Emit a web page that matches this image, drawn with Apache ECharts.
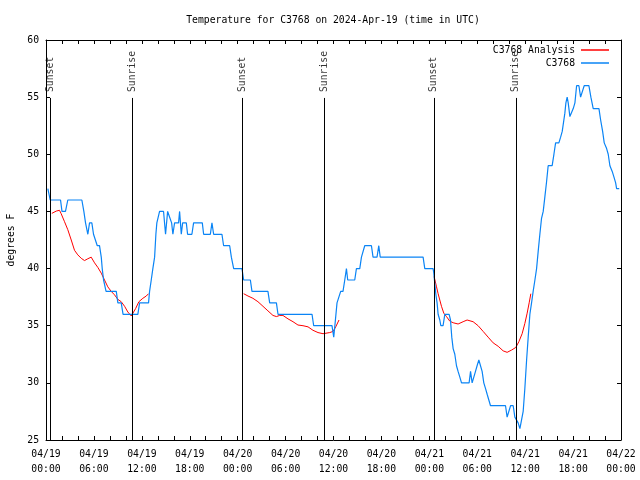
<!DOCTYPE html>
<html><head><meta charset="utf-8">
<script src="https://cdn.jsdelivr.net/npm/echarts@6/dist/echarts.min.js"></script>
<style>html,body{margin:0;padding:0;background:#fff}#c{width:640px;height:480px}</style>
</head><body><div id="c"></div>
<script>
const FONT = 'DejaVu Sans Mono';
const FS = 9.75;
const titleText = 'Temperature for C3768 on 2024-Apr-19 (time in UTC)';
const yAxisName = 'degrees F';
const startDay = 19; // 04/19 00:00 UTC = hour 0
const seriesNames = ['C3768 Analysis', 'C3768'];

// Observations: [hours since 04/19 00:00 UTC, degrees F]
const obsSeries = [[0.23,47],[0.38,47],[0.53,46],[1.82,46],[2.0,45],[2.44,45],[2.73,46],[4.49,46],[4.74,45],[4.95,44],[5.24,43],[5.45,44],[5.74,44],[5.95,43],[6.20,43],[6.42,42],[6.70,42],[6.92,41],[7.04,40],[7.21,39],[7.52,38],[8.80,38],[9.00,37],[9.42,37],[9.65,36],[11.50,36],[11.72,37],[12.84,37],[12.97,38],[13.18,39],[13.38,40],[13.60,41],[13.76,43],[13.88,44],[14.22,45],[14.72,45],[14.97,43],[15.23,45],[15.48,45],[15.73,44],[15.89,43],[16.10,44],[16.60,44],[16.73,45],[16.94,43],[17.11,44],[17.57,44],[17.73,43],[18.27,43],[18.48,44],[19.57,44],[19.74,43],[20.58,43],[20.78,44],[20.99,43],[22.03,43],[22.24,42],[23.0,42],[23.21,41],[23.50,40],[24.54,40],[24.75,39],[25.59,39],[25.79,38],[27.79,38],[28.01,37],[28.85,37],[29.05,36],[33.31,36],[33.52,35],[35.81,35],[36.03,34],[36.24,35.5],[36.44,37],[36.65,37],[36.90,38],[37.19,38],[37.41,39],[37.62,40],[37.78,39],[38.66,39],[38.87,40],[39.29,40],[39.50,41],[39.72,41],[39.91,42],[40.75,42],[40.95,41],[41.45,41],[41.67,42],[41.85,41],[47.22,41],[47.43,40],[48.47,40],[48.56,39.6],[48.68,38.7],[48.81,37.8],[48.97,37],[49.10,36],[49.31,35.5],[49.44,35],[49.72,35],[49.94,36],[50.48,36],[50.65,35.5],[50.81,34],[50.98,33],[51.19,32.5],[51.40,31.5],[51.60,31],[51.82,30.5],[52.03,30],[52.98,30],[53.16,31],[53.36,30],[53.57,30],[53.78,31],[53.98,31.5],[54.20,32],[54.41,32],[54.61,31],[54.82,30],[55.04,29.5],[55.24,29],[55.45,28.5],[55.66,28],[57.54,28],[57.74,27],[57.96,27],[58.17,28],[58.50,28],[58.71,27],[58.92,27],[59.12,26.5],[59.34,26],[59.55,26],[59.75,27.5],[59.96,29.5],[60.18,32],[60.38,34],[60.59,36],[60.80,37],[61.0,38],[61.22,39],[61.43,40],[61.63,41.5],[61.84,43],[62.05,44.4],[62.26,45],[62.47,46.3],[62.68,47.6],[62.88,49],[63.38,49],[63.60,50],[63.81,51],[64.22,51],[64.44,51.5],[64.64,52],[64.76,52],[64.97,53.6],[65.10,54.5],[65.26,55],[65.39,54.5],[65.60,53.3],[65.81,53.3],[66.02,54],[66.23,54.5],[66.44,56],[66.73,56],[66.94,55],[67.17,55],[67.39,56],[67.98,56],[68.23,55],[68.52,54],[69.24,54],[69.45,53],[69.70,52],[69.90,51],[70.20,50.5],[70.40,50],[70.61,49],[70.90,48.5],[71.12,48],[71.33,47.5],[71.45,47],[71.78,47]];

// Analysis: [hours, degrees F], '-' marks a gap
const anaSeries = [[0.73,44.83],[1.28,45.03],[1.69,45.1],[1.90,44.8],[2.32,44.1],[2.73,43.4],[3.16,42.5],[3.57,41.6],[3.98,41.2],[4.41,40.9],[4.82,40.7],[5.24,40.86],[5.66,41.0],[6.08,40.5],[6.49,40.1],[6.92,39.6],[7.33,39.0],[7.74,38.4],[8.17,38.0],[8.58,37.7],[9.0,37.3],[9.42,37.1],[9.84,36.7],[10.25,36.2],[10.68,35.85],[10.88,35.9],[11.22,36.5],[11.63,37.1],[12.13,37.4],[12.56,37.6],[12.84,37.8],
[18,'-'],
[24.75,37.8],[25.29,37.6],[25.91,37.4],[26.54,37.1],[27.17,36.7],[27.79,36.3],[28.42,35.9],[28.85,35.8],[29.26,35.9],[29.67,35.9],[30.30,35.6],[30.93,35.35],[31.55,35.06],[32.18,35.0],[32.81,34.9],[33.43,34.6],[34.06,34.4],[34.69,34.3],[35.53,34.4],[35.94,34.5],[36.28,34.9],[36.69,35.5],
[42,'-'],
[48.6,39.3],[48.9,38.4],[49.1,37.8],[49.31,37.25],[49.52,36.7],[49.81,36.1],[50.15,35.8],[50.56,35.4],[50.98,35.26],[51.6,35.15],[52.23,35.35],[52.73,35.5],[53.48,35.35],[54.11,35.0],[54.74,34.5],[55.36,34.0],[55.99,33.5],[56.62,33.2],[57.24,32.8],[57.74,32.67],[58.30,32.87],[58.83,33.1],[59.21,33.6],[59.62,34.3],[59.96,35.2],[60.25,36.1],[60.50,37.0],[60.71,37.8]];

const sunHours = [0.55, 10.85, 24.55, 34.9, 48.57, 58.83];
const sunLabels = ['Sunset', 'Sunrise', 'Sunset', 'Sunrise', 'Sunset', 'Sunrise'];
const SUN_LINE_TOP = 54.93;   // degrees F where the marker line stops
const SUN_LABEL_Y = 55.45;    // degrees F where the label starts

function fmtX(v) {
  const day = startDay + Math.floor(v / 24 + 1e-9);
  const hr = Math.round(v - (day - startDay) * 24);
  return '04/' + String(day).padStart(2, '0') + '\n' + String(hr).padStart(2, '0') + ':00';
}

const txt = { color: '#000', fontFamily: FONT, fontSize: FS };
const blk = { color: '#000', width: 1 };

function xAx(pos, labels) {
  return {
    type: 'value', min: 0, max: 72, interval: 6, position: pos,
    axisLine: { show: true, onZero: false, lineStyle: blk },
    axisTick: { show: true, inside: true, length: 4, lineStyle: blk },
    minorTick: { show: true, splitNumber: 3, length: 4, lineStyle: blk },
    axisLabel: Object.assign({ show: labels, formatter: fmtX, lineHeight: 15, margin: 7, showMinLabel: true, showMaxLabel: true }, txt),
    splitLine: { show: false }, minorSplitLine: { show: false }
  };
}
function yAx(pos, labels) {
  const a = {
    type: 'value', min: 25, max: 60, interval: 5, position: pos,
    axisLine: { show: true, onZero: false, lineStyle: blk },
    axisTick: { show: true, inside: true, length: 4, lineStyle: blk },
    axisLabel: Object.assign({ show: labels, margin: 7 }, txt),
    splitLine: { show: false }
  };
  if (labels) {
    a.name = yAxisName; a.nameLocation = 'middle'; a.nameGap = 30; a.nameRotate = 90;
    a.nameTextStyle = Object.assign({}, txt);
  }
  return a;
}

const legendCommon = { right: 31, align: 'right', icon: 'rect', itemWidth: 28, itemHeight: 1.5, itemGap: 0,
  padding: 0, selectedMode: false, textStyle: Object.assign({ padding: [0, 1, 0, 0] }, txt) };

const chart = echarts.init(document.getElementById('c'), null, { renderer: 'canvas' });
chart.setOption({
  animation: false,
  backgroundColor: '#fff',
  title: { text: titleText, left: 333, top: 15, padding: 0, textAlign: 'center', textStyle: Object.assign({ fontWeight: 'normal' }, txt) },
  grid: { left: 46, right: 19, top: 40, bottom: 40, containLabel: false, outerBoundsMode: 'none' },
  legend: [
    Object.assign({ data: [seriesNames[0]], top: 45 }, legendCommon),
    Object.assign({ data: [seriesNames[1]], top: 58 }, legendCommon)
  ],
  xAxis: [xAx('bottom', true), xAx('top', false)],
  yAxis: [yAx('left', true), yAx('right', false)],
  series: [
    { name: seriesNames[0], type: 'line', data: anaSeries, symbol: 'none', connectNulls: false,
      lineStyle: { color: '#ff0000', width: 1 }, itemStyle: { color: '#ff0000' }, z: 3 },
    { name: seriesNames[1], type: 'line', data: obsSeries, symbol: 'none',
      lineStyle: { color: '#0a84f5', width: 1.2 }, itemStyle: { color: '#0a84f5' }, z: 4 },
    { name: 'sun', type: 'scatter', symbolSize: 0, silent: true, z: 5,
      itemStyle: { color: '#000' },
      data: sunHours.map(h => [h, SUN_LABEL_Y]),
      label: Object.assign({ show: true, position: 'inside', rotate: 90, align: 'left', verticalAlign: 'middle',
        textBorderWidth: 0, formatter: p => sunLabels[p.dataIndex] }, txt),
      markLine: { silent: true, symbol: 'none', animation: false,
        lineStyle: { color: '#000', width: 1, type: 'solid' }, label: { show: false },
        data: sunHours.map(h => [{ coord: [h, 25] }, { coord: [h, SUN_LINE_TOP] }]) }
    }
  ]
});
</script></body></html>
